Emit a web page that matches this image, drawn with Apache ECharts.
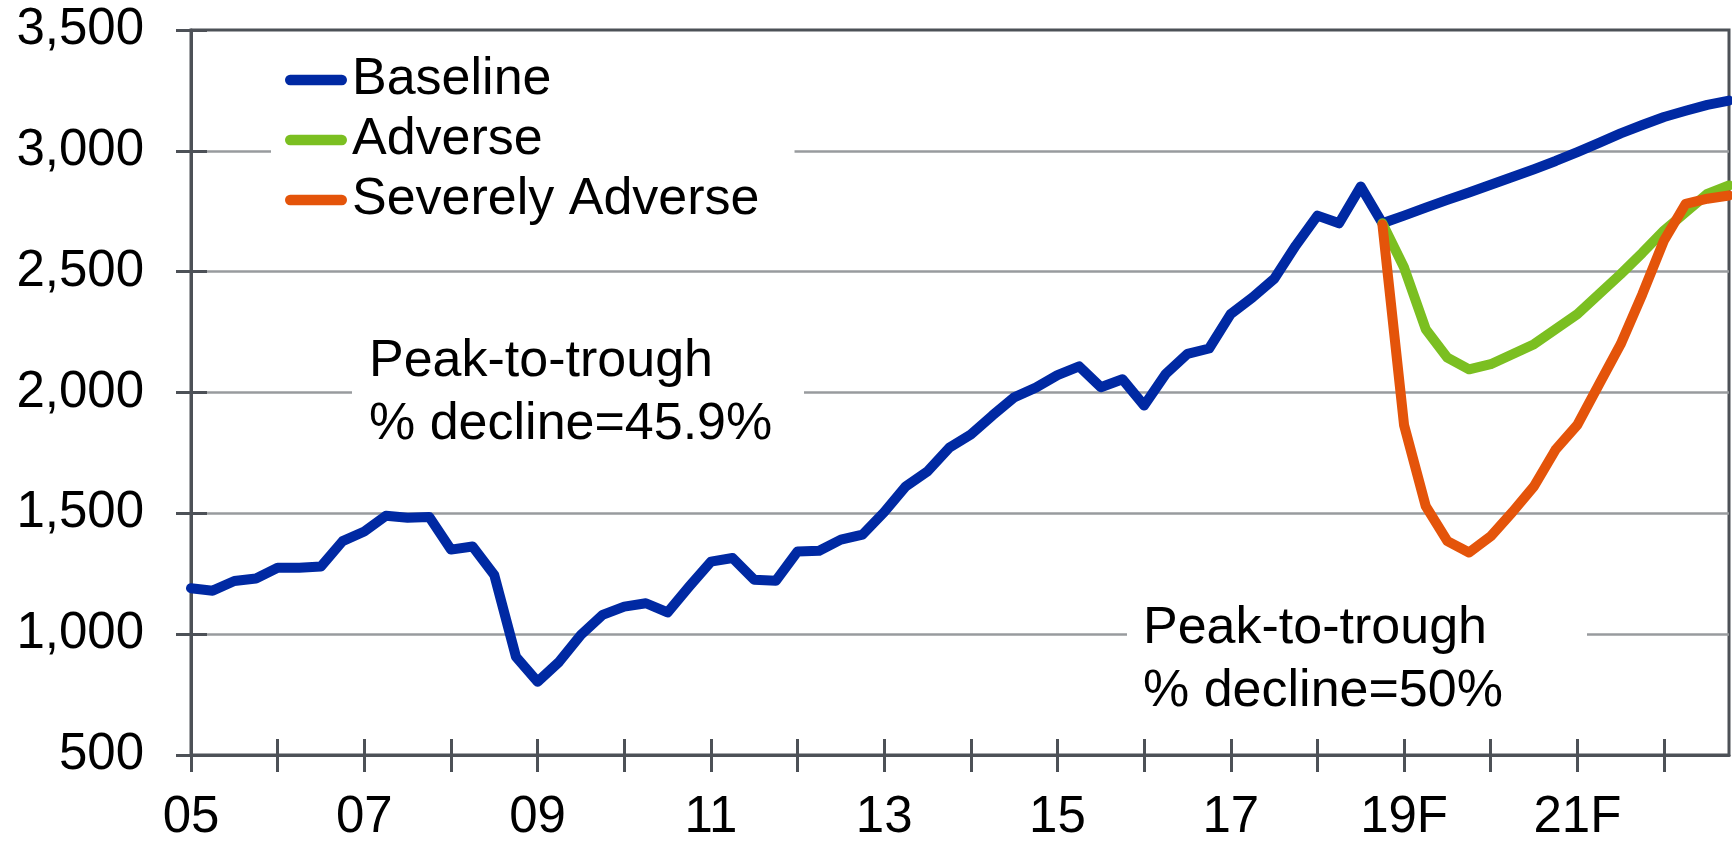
<!DOCTYPE html>
<html>
<head>
<meta charset="utf-8">
<script src="https://cdn.jsdelivr.net/npm/echarts@6/dist/echarts.min.js"></script>
<style>
	html, body { margin: 0; padding: 0; background: #fff; }
	#main { width: 1732px; height: 842px; }
</style>
</head>
<body>
<div id="main"></div>
<script>
// quarters 2005Q1 .. 2022Q4
var years = [2005, 2006, 2007, 2008, 2009, 2010, 2011, 2012, 2013, 2014, 2015, 2016, 2017, 2018, 2019, 2020, 2021, 2022];
var quarters = [];
years.forEach(function(y) {
	for (var q = 1; q <= 4; q++) quarters.push(y + 'Q' + q);
});
var tickLabels = ['05', '07', '09', '11', '13', '15', '17', '19F', '21F'];

var baseline = [
	1190, 1180, 1220, 1230, 1275, 1275, 1280, 1385,
	1425, 1490, 1482, 1485, 1350, 1363, 1245, 907,
	803, 886, 997, 1080, 1114, 1128, 1090, 1197,
	1300, 1315, 1225, 1221, 1342, 1345, 1391, 1412,
	1505, 1612, 1674, 1771, 1826, 1905, 1980, 2020,
	2072, 2108, 2022, 2055, 1946, 2077, 2160, 2182,
	2325, 2393, 2470, 2608, 2732, 2700, 2852, 2700,
	2732, 2765, 2797, 2828, 2860, 2892, 2924, 2958,
	2995, 3033, 3072, 3107, 3140, 3166, 3190, 3208
];
// scenarios start at 2018Q4 (index 55)
var adverse = [
	2700, 2517, 2262, 2144, 2096, 2117, 2158, 2200,
	2262, 2324, 2407, 2490, 2578, 2670, 2746, 2822, 2857
];
var severe = [
	2695, 1865, 1530, 1385, 1338, 1405, 1505, 1612,
	1764, 1866, 2034, 2200, 2407, 2629, 2781, 2802, 2815
];
var notes = ['Peak-to-trough\n% decline=45.9%', 'Peak-to-trough\n% decline=50%'];

function pad(arr) {
	var out = [];
	for (var i = 0; i < quarters.length - arr.length; i++) out.push(null);
	return out.concat(arr);
}

var font = 'Liberation Sans, Arial, sans-serif';
var axisColor = '#4d5157';
var gridColor = '#989b9e';
var capsule = 'path://M5,0 H55 A5,5 0 0 1 55,10 H5 A5,5 0 0 1 5,0 Z';

var myChart = echarts.init(document.getElementById('main'));
var option = {
	backgroundColor: '#fff',
	animation: false,
	grid: {
		left: 191,
		right: 3,
		top: 30,
		bottom: 87,
		containLabel: false,
		outerBoundsMode: 'none',
		show: true,
		borderColor: axisColor,
		borderWidth: 3
	},
	legend: {
		orient: 'vertical',
		left: 271,
		top: 35,
		padding: [15, 35, 15, 14],
		backgroundColor: '#fff',
		itemWidth: 62,
		itemHeight: 11,
		itemGap: 0,
		itemTextGap: 0,
		textStyle: { fontSize: 52, fontFamily: font, color: '#000', lineHeight: 60 },
		data: [
			{ name: 'Baseline', icon: capsule },
			{ name: 'Adverse', icon: capsule },
			{ name: 'Severely Adverse', icon: capsule }
		]
	},
	xAxis: [{
		type: 'category',
		data: quarters,
		boundaryGap: false,
		position: 'bottom',
		axisLine: { lineStyle: { color: axisColor, width: 3 } },
		axisTick: {
			length: 17,
			lineStyle: { color: axisColor, width: 3 },
			interval: function(i) { return i % 4 === 0; }
		},
		axisLabel: {
			interval: function(i) { return i % 8 === 0; },
			formatter: function(v, i) { return tickLabels[i / 8]; },
			margin: 37,
			fontSize: 51,
			fontFamily: font,
			color: '#000'
		},
		splitLine: { show: false }
	}, {
		type: 'category',
		data: quarters,
		boundaryGap: false,
		position: 'bottom',
		axisLine: { show: false },
		axisTick: {
			inside: true,
			length: 16,
			lineStyle: { color: axisColor, width: 3 },
			interval: function(i) { return i % 4 === 0; }
		},
		axisLabel: { show: false },
		splitLine: { show: false }
	}],
	yAxis: [{
		type: 'value',
		min: 500,
		max: 3500,
		interval: 500,
		position: 'left',
		axisLine: { show: true, lineStyle: { color: axisColor, width: 3 } },
		axisTick: { show: true, length: 15, lineStyle: { color: axisColor, width: 3 } },
		axisLabel: {
			margin: 47,
			fontSize: 51,
			fontFamily: font,
			color: '#000',
			formatter: function(v) { return v.toLocaleString('en-US'); }
		},
		splitLine: { show: true, showMinLine: false, showMaxLine: false, lineStyle: { color: gridColor, width: 2.5 } }
	}, {
		type: 'value',
		min: 500,
		max: 3500,
		interval: 500,
		position: 'left',
		axisLine: { show: false },
		axisTick: { show: true, inside: true, length: 16, lineStyle: { color: axisColor, width: 3 } },
		axisLabel: { show: false },
		splitLine: { show: false }
	}],
	graphic: [
		{ type: 'rect', z: 1, shape: { x: 352, y: 325, width: 452, height: 140 }, style: { fill: '#fff' } },
		{ type: 'text', z: 1, x: 369, y: 330.5,
			style: { text: notes[0], fontSize: 52, fontFamily: font, lineHeight: 63, fill: '#000', verticalAlign: 'top' } },
		{ type: 'rect', z: 1, shape: { x: 1127, y: 595, width: 460, height: 140 }, style: { fill: '#fff' } },
		{ type: 'text', z: 1, x: 1143, y: 597.5,
			style: { text: notes[1], fontSize: 52, fontFamily: font, lineHeight: 63, fill: '#000', verticalAlign: 'top' } }
	],
	series: [{
		name: 'Baseline',
		type: 'line',
		data: baseline,
		color: '#0029a3',
		symbol: 'none',
		lineStyle: { width: 10, cap: 'round', join: 'round' }
	}, {
		name: 'Adverse',
		type: 'line',
		data: pad(adverse),
		color: '#7bbf21',
		symbol: 'none',
		lineStyle: { width: 10, cap: 'round', join: 'round' }
	}, {
		name: 'Severely Adverse',
		type: 'line',
		data: pad(severe),
		color: '#e4540a',
		symbol: 'none',
		lineStyle: { width: 10, cap: 'round', join: 'round' }
	}]
};
myChart.setOption(option);
</script>
</body>
</html>
